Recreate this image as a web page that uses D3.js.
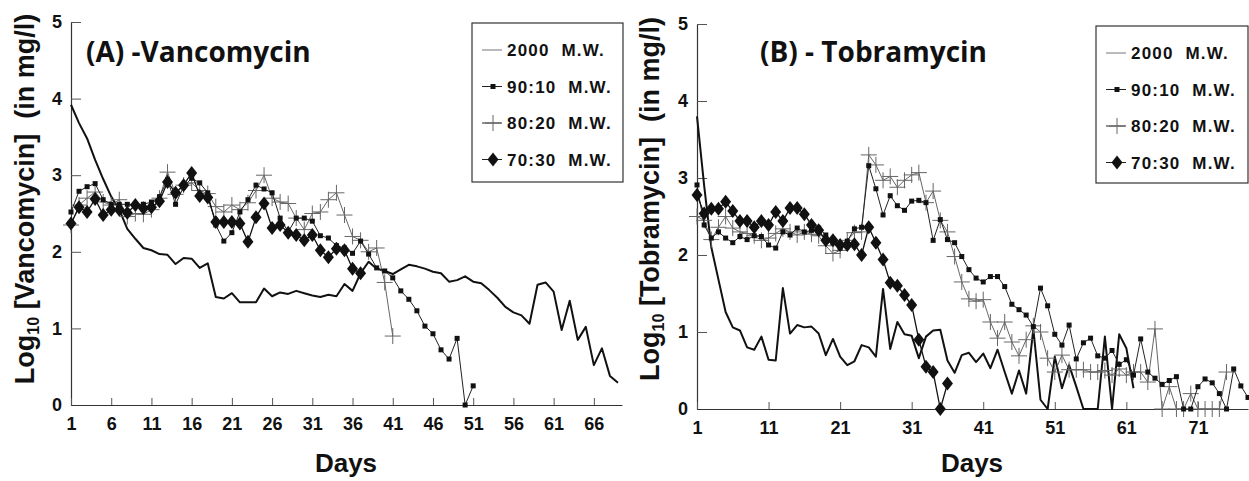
<!DOCTYPE html>
<html>
<head>
<meta charset="utf-8">
<script src="https://cdn.jsdelivr.net/npm/d3@7"></script>
<style>
  body { margin: 0; background: #fff; }
  text { font-family: "Liberation Sans", Arial, sans-serif; font-weight: bold; fill: #111; }
</style>
</head>
<body>
<svg id="chart" width="1249" height="481"></svg>
<script>
// series names (legend)
var seriesNames = ['2000  M.W.', '90:10  M.W.', '80:20  M.W.', '70:30  M.W.'];
var yTicks = [0, 1, 2, 3, 4, 5];

// (A) Vancomycin, log10 concentration, one value per day starting day 1
var vancTicks = [1, 6, 11, 16, 21, 26, 31, 36, 41, 46, 51, 56, 61, 66];
var vanc2000 = [3.92, 3.68, 3.48, 3.2, 2.95, 2.72, 2.55, 2.3, 2.17, 2.05, 2.02, 1.97, 1.96, 1.84, 1.92,
  1.91, 1.79, 1.85, 1.41, 1.39, 1.46, 1.34, 1.34, 1.34, 1.52, 1.42, 1.47, 1.45, 1.49, 1.46,
  1.43, 1.41, 1.44, 1.42, 1.58, 1.49, 1.72, 1.87, 1.78, 1.75, 1.71, 1.77, 1.83, 1.81, 1.78,
  1.74, 1.72, 1.61, 1.63, 1.68, 1.61, 1.59, 1.5, 1.4, 1.28, 1.21, 1.17, 1.06, 1.57, 1.6,
  1.48, 0.98, 1.36, 0.85, 1.02, 0.52, 0.74, 0.38, 0.29];
var vanc9010 = [2.52, 2.79, 2.85, 2.89, 2.68, 2.62, 2.62, 2.62, 2.62, 2.62, 2.65, 2.72, 2.94, 2.62, 2.85,
  2.96, 2.9, 2.77, 2.35, 2.14, 2.25, 2.52, 2.68, 2.87, 2.82, 2.77, 2.44, 2.26, 2.44, 2.44,
  2.4, 2.21, 2.18, 2.08, 2.05, 1.98, 2.14, 1.97, 1.79, 1.75, 1.66, 1.49, 1.38, 1.23, 1.03,
  0.93, 0.72, 0.6, 0.87, 0, 0.25];
var vanc8020 = [2.35, 2.61, 2.7, 2.78, 2.65, 2.61, 2.68, 2.46, 2.5, 2.49, 2.55, 2.7, 3.04, 2.75, 2.87,
  2.9, 2.8, 2.76, 2.59, 2.52, 2.61, 2.55, 2.64, 2.8, 3.0, 2.7, 2.65, 2.63, 2.44, 2.29,
  2.5, 2.52, 2.68, 2.77, 2.48, 2.2, 2.15, 2.0, 2.05, 1.6, 0.9];
var vanc7030 = [2.37, 2.58, 2.52, 2.69, 2.48, 2.55, 2.55, 2.51, 2.61, 2.57, 2.58, 2.66, 2.91, 2.77, 2.87,
  3.03, 2.73, 2.71, 2.39, 2.39, 2.39, 2.37, 2.13, 2.45, 2.63, 2.31, 2.35, 2.25, 2.22, 2.15,
  2.22, 2.02, 1.93, 2.04, 2.02, 1.78, 1.72];

// (B) Tobramycin
var tobTicks = [1, 11, 21, 31, 41, 51, 61, 71];
var tob2000 = [3.8, 2.9, 2.1, 1.68, 1.26, 1.06, 1.02, 0.8, 0.77, 0.94, 0.64, 0.63, 1.57, 0.98, 1.09,
  1.06, 1.07, 0.98, 0.7, 0.91, 0.68, 0.57, 0.62, 0.83, 0.8, 0.68, 1.56, 0.78, 1.13, 0.97,
  0.95, 0.66, 0.94, 1.02, 1.03, 0.63, 0.47, 0.7, 0.73, 0.61, 0.72, 0.53, 0.77, 0.48, 0.2,
  0.5, 0.2, 1.04, 0.12, 0, 0.68, 0.27, 0.57, 0.29, 0, 0, 0, 0.94, 0, 0.97,
  0.79, 0.27];
var tob9010 = [2.91, 2.39, 2.22, 2.3, 2.22, 2.16, 2.24, 2.2, 2.25, 2.24, 2.13, 2.09, 2.3, 2.26, 2.35,
  2.3, 2.32, 2.35, 2.26, 2.16, 2.09, 2.18, 2.34, 2.36, 3.16, 2.86, 2.52, 2.77, 2.64, 2.58,
  2.7, 2.71, 2.68, 2.19, 2.46, 2.2, 2.16, 1.98, 1.81, 1.7, 1.65, 1.72, 1.72, 1.59, 1.36,
  1.29, 1.22, 1.07, 1.57, 1.34, 0.97, 0.83, 1.09, 0.65, 0.86, 0.92, 0.69, 0.66, 0.76, 0.58,
  0.64, 0.44, 0.91, 0.48, 0.4, 0.32, 0.37, 0.42, 0, 0, 0.29, 0.39, 0.34, 0.2, 0,
  0.52, 0.3, 0.15];
var tob8020 = [2.5, 2.45, 2.2, 2.36, 2.5, 2.35, 2.3, 2.28, 2.25, 2.19, 2.22, 2.28, 2.34, 2.3, 2.26,
  2.3, 2.27, 2.25, 2.12, 2.02, 2.06, 2.19, 2.29, 2.3, 3.3, 3.17, 2.97, 3.02, 2.88, 2.97,
  3.04, 3.07, 2.68, 2.83, 2.45, 2.3, 1.98, 1.65, 1.43, 1.4, 1.42, 1.13, 0.92, 1.13, 0.87,
  0.69, 0.9, 1.08, 1.0, 0.66, 0.48, 0.7, 0.51, 0.51, 0.51, 0.48, 0.48, 0.5, 0.44, 0.52,
  0.44, 0.48, 0.48, 0.35, 1.04, 0, 0.29, 0, 0, 0.2, 0, 0, 0, 0, 0.48];
var tob7030 = [2.78, 2.54, 2.6, 2.6, 2.69, 2.57, 2.44, 2.44, 2.36, 2.44, 2.39, 2.56, 2.44, 2.61, 2.61,
  2.53, 2.39, 2.32, 2.19, 2.19, 2.13, 2.13, 2.14, 2.0, 2.36, 2.16, 1.94, 1.64, 1.6, 1.48,
  1.35, 0.9, 0.55, 0.48, 0, 0.33];

var svg = d3.select('#chart');

// marker shapes
function markSquare(sel) {
  sel.append('rect').attr('x', -2.5).attr('y', -2.5).attr('width', 5).attr('height', 5).attr('fill', '#111');
}
function markCross(sel) {
  sel.append('path').attr('d', 'M-8,0H8M0,-8V8').attr('stroke', '#666').attr('stroke-width', 1).attr('fill', 'none');
}
function markDiamond(sel) {
  sel.append('path').attr('d', 'M0,-7L5.5,0L0,7L-5.5,0Z').attr('fill', '#111');
}

var styles = [
  {stroke: '#111', width: 2, mark: null},
  {stroke: '#222', width: 1, mark: markSquare},
  {stroke: '#555', width: 0.9, mark: markCross},
  {stroke: '#111', width: 1.3, mark: markDiamond}
];

function drawPanel(p) {
  var g = svg.append('g');
  var x = d3.scaleLinear().domain([1, p.xMax]).range([p.left, p.right]);
  var y = d3.scaleLinear().domain([0, 5]).range([p.bottom, p.top]);

  // axes
  var yAxis = g.append('g')
    .attr('transform', 'translate(' + p.left + ',0)')
    .call(d3.axisLeft(y).tickValues(yTicks).tickFormat(d3.format('d'))
      .tickSizeInner(-10).tickSizeOuter(0).tickPadding(9));
  var xAxis = g.append('g')
    .attr('transform', 'translate(0,' + p.bottom + ')')
    .call(d3.axisBottom(x).tickValues(p.ticks).tickFormat(d3.format('d'))
      .tickSizeInner(-7).tickSizeOuter(0).tickPadding(12));
  [yAxis, xAxis].forEach(function(a){
    a.select('.domain').attr('stroke', '#333').attr('stroke-width', 1.2);
    a.selectAll('.tick line').attr('stroke', '#555');
    a.selectAll('.tick text').style('font-size', '18px').attr('fill', '#111');
  });

  // series
  var line = d3.line().x(function(v, i){ return x(i + 1); }).y(function(v){ return y(v); });
  var order = [0, 2, 1, 3];
  order.forEach(function(k){
    var vals = p.series[k];
    var st = styles[k];
    g.append('path').datum(vals)
      .attr('d', line)
      .attr('fill', 'none')
      .attr('stroke', st.stroke)
      .attr('stroke-width', st.width)
      .attr('stroke-linejoin', 'round');
    if (st.mark) {
      g.selectAll(null).data(vals).enter().append('g')
        .attr('transform', function(v, i){ return 'translate(' + x(i + 1) + ',' + y(v) + ')'; })
        .each(function(){ st.mark(d3.select(this)); });
    }
  });

  // title
  g.append('text')
    .attr('x', p.titleX).attr('y', 62)
    .style('font-family', '"Open Sans", sans-serif')
    .style('font-size', '28px')
    .text(p.title);

  // y label
  var yl = g.append('text')
    .attr('transform', 'translate(' + p.ylabX + ',' + 199 + ') rotate(-90)')
    .attr('text-anchor', 'middle')
    .style('white-space', 'pre')
    .style('font-size', '27px');
  yl.append('tspan').text('Log');
  yl.append('tspan').attr('dy', 5).style('font-size', '16px').text('10');
  yl.append('tspan').attr('dy', -5).text(' [' + p.drug + ']  (in mg/l)');

  // x label
  g.append('text')
    .attr('x', p.daysX).attr('y', 472)
    .attr('text-anchor', 'middle')
    .style('font-size', '26px')
    .text('Days');

  // legend
  var lg = g.append('g');
  lg.append('rect')
    .attr('x', p.leg.x).attr('y', p.leg.y).attr('width', p.leg.w).attr('height', p.leg.h)
    .attr('fill', '#fff').attr('stroke', '#333').attr('stroke-width', 1.2);
  seriesNames.forEach(function(name, k){
    var cy = p.leg.y + 27 + k * 36.5;
    var sx = p.leg.x + 10;
    lg.append('line')
      .attr('x1', sx).attr('x2', sx + 20).attr('y1', cy).attr('y2', cy)
      .attr('stroke', k === 0 ? '#777' : '#222').attr('stroke-width', 1);
    if (styles[k].mark) {
      var mk = lg.append('g').attr('transform', 'translate(' + (sx + 11) + ',' + cy + ')');
      styles[k].mark(mk);
    }
    lg.append('text')
      .attr('x', sx + 25).attr('y', cy + 6)
      .style('font-size', '17px')
      .style('letter-spacing', '1.2px')
      .style('white-space', 'pre')
      .text(name);
  });
}

drawPanel({
  left: 71, right: 622, top: 22, bottom: 405, xMax: 69.5,
  ticks: vancTicks,
  series: [vanc2000, vanc9010, vanc8020, vanc7030],
  title: '(A) -Vancomycin', titleX: 86,
  drug: 'Vancomycin', ylabX: 34, daysX: 346,
  leg: {x: 472, y: 23, w: 151, h: 159}
});

drawPanel({
  left: 697, right: 1248, top: 24, bottom: 409, xMax: 78,
  ticks: tobTicks,
  series: [tob2000, tob9010, tob8020, tob7030],
  title: '(B) - Tobramycin', titleX: 760,
  drug: 'Tobramycin', ylabX: 659, daysX: 972,
  leg: {x: 1096, y: 26, w: 152, h: 157}
});
</script>
</body>
</html>
